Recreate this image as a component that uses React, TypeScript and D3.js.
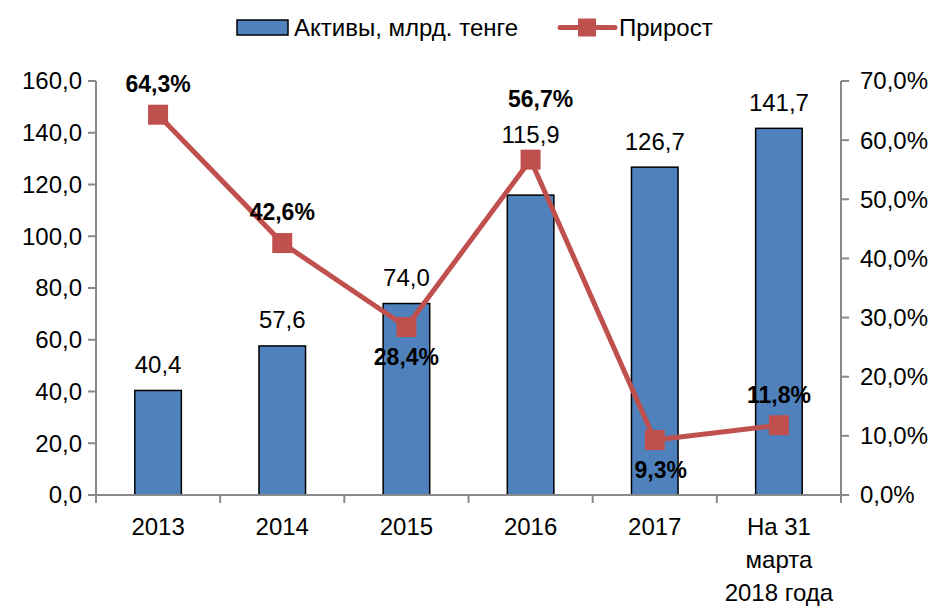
import React from "react";
import * as d3 from "d3";

const categories: string[][] = [["2013"], ["2014"], ["2015"], ["2016"], ["2017"], ["На 31", "марта", "2018 года"]];
const assets: number[] = [40.4, 57.6, 74.0, 115.9, 126.7, 141.7];
const growth: number[] = [64.3, 42.6, 28.4, 56.7, 9.3, 11.8];
const leftTicks: number[] = [0, 20, 40, 60, 80, 100, 120, 140, 160];
const rightTicks: number[] = [0, 10, 20, 30, 40, 50, 60, 70];
const legendLabels: string[] = ["Активы, млрд. тенге", "Прирост"];

const W = 932, H = 606;
const L = 96, R = 841, T = 81, B = 495;
const FONT = "'Liberation Sans', Arial, sans-serif";
const AXIS = "#898989";
const BAR = "#4F81BD";
const LINE = "#C0504D";
const FS = 24;
// label nudges (style, not data)
const barLabelOffset = [26, 26, 26, 61, 26, 26];
const growthLabelDx = [0, 0, 0, 10, 6, 0];
const growthLabelDy = [-31, -31, 30, -61, 30, -30];

const fmt = (v: number) => v.toFixed(1).replace(".", ",");

export default function App() {
  const idx = categories.map((_, i) => i);
  const x = d3.scaleBand<number>().domain(idx).range([L, R]).paddingInner(0).paddingOuter(0);
  const yL = d3.scaleLinear().domain([0, 160]).range([B, T]);
  const yR = d3.scaleLinear().domain([0, 70]).range([B, T]);
  const bw = x.bandwidth() * 0.375;
  const cx = (i: number) => (x(i) as number) + x.bandwidth() / 2;
  const line = d3.line<number>().x((_, i) => cx(i)).y((d) => yR(d));

  return (
    <svg width={W} height={H} style={{ position: "absolute", left: 0, top: 0, background: "#fff" }} fontFamily={FONT}>
      {/* legend */}
      <rect x={237} y={20} width={51} height={15} fill={BAR} stroke="#000" strokeWidth={1.5} />
      <text x={294} y={36} fontSize={FS} fill="#000">{legendLabels[0]}</text>
      <line x1={560} x2={615} y1={27.5} y2={27.5} stroke={LINE} strokeWidth={5} strokeLinecap="round" />
      <rect x={578} y={18.5} width={18} height={18} fill={LINE} />
      <text x={619} y={36} fontSize={FS} fill="#000">{legendLabels[1]}</text>

      {/* bars */}
      {assets.map((v, i) => (
        <rect key={i} x={cx(i) - bw / 2} y={yL(v)} width={bw} height={B - yL(v)} fill={BAR} stroke="#000" strokeWidth={1.5} />
      ))}

      {/* axes */}
      <line x1={L} x2={L} y1={T} y2={B} stroke={AXIS} strokeWidth={2} />
      <line x1={R} x2={R} y1={T} y2={B} stroke={AXIS} strokeWidth={2} />
      <line x1={L} x2={R + 8} y1={B} y2={B} stroke={AXIS} strokeWidth={2} />
      {leftTicks.map((t) => (
        <g key={"l" + t}>
          <line x1={L - 8} x2={L} y1={yL(t)} y2={yL(t)} stroke={AXIS} strokeWidth={2} />
          <text x={L - 14} y={yL(t)} dy="0.35em" textAnchor="end" fontSize={FS} fill="#000">{fmt(t)}</text>
        </g>
      ))}
      {rightTicks.map((t) => (
        <g key={"r" + t}>
          <line x1={R} x2={R + 8} y1={yR(t)} y2={yR(t)} stroke={AXIS} strokeWidth={2} />
          <text x={R + 19} y={yR(t)} dy="0.35em" textAnchor="start" fontSize={FS} fill="#000">{fmt(t) + "%"}</text>
        </g>
      ))}
      {idx.concat([idx.length]).map((k) => {
        const xx = k < idx.length ? (x(k) as number) : R;
        return <line key={"c" + k} x1={xx} x2={xx} y1={B} y2={B + 8} stroke={AXIS} strokeWidth={2} />;
      })}
      {categories.map((c, i) => (
        <text key={"cat" + i} x={cx(i)} y={527} textAnchor="middle" fontSize={FS} fill="#000">
          {c.map((s, j) => (
            <tspan key={j} x={cx(i)} y={527 + j * 33} dy="0.35em">{s}</tspan>
          ))}
        </text>
      ))}

      {/* bar labels */}
      {assets.map((v, i) => (
        <text key={"bl" + i} x={cx(i)} y={yL(v) - barLabelOffset[i]} dy="0.35em" textAnchor="middle" fontSize={FS} fill="#000">{fmt(v)}</text>
      ))}

      {/* line */}
      <path d={line(growth) || ""} fill="none" stroke={LINE} strokeWidth={5} strokeLinejoin="round" />
      {growth.map((g, i) => (
        <rect key={"m" + i} x={cx(i) - 10} y={yR(g) - 10} width={20} height={20} fill={LINE} />
      ))}
      {growth.map((g, i) => (
        <text key={"gl" + i} x={cx(i) + growthLabelDx[i]} y={yR(g) + growthLabelDy[i]} dy="0.35em" textAnchor="middle" fontSize={23} fontWeight="bold" fill="#000">{fmt(g) + "%"}</text>
      ))}
    </svg>
  );
}
